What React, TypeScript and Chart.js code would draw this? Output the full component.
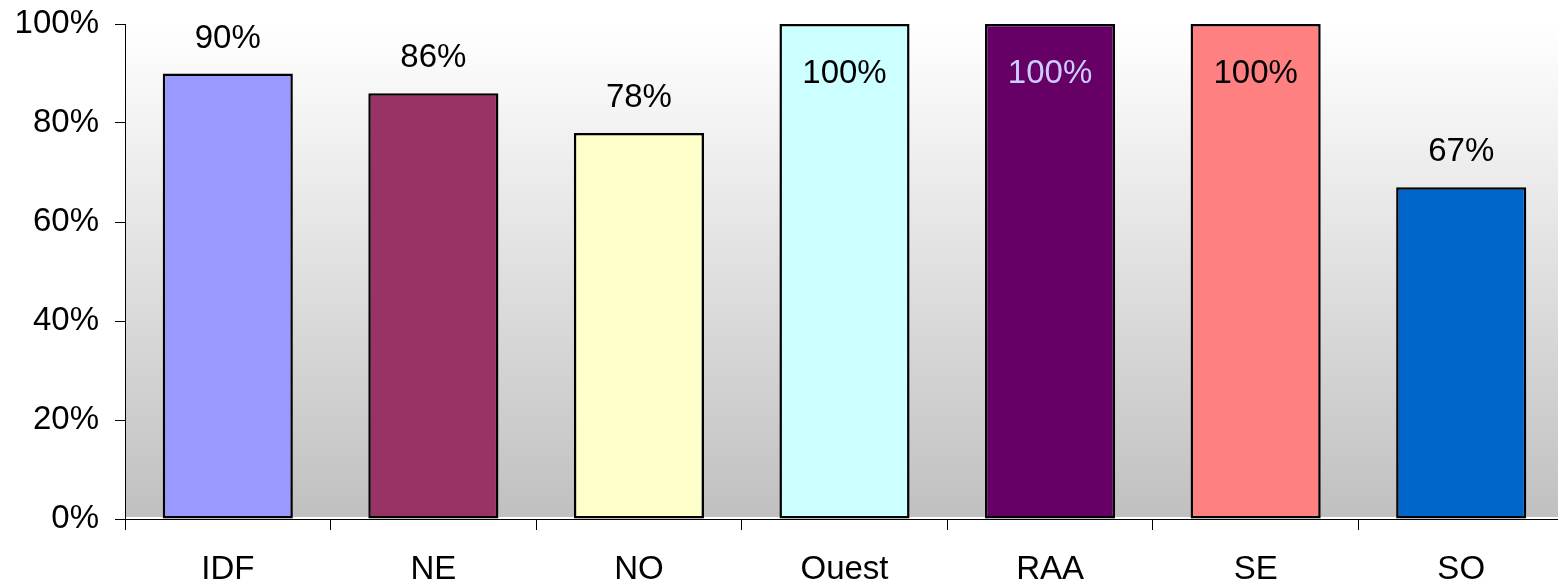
import React, { useEffect, useRef } from "react";
import { Chart, registerables } from "chart.js";

Chart.register(...registerables);

const categories = ["IDF", "NE", "NO", "Ouest", "RAA", "SE", "SO"];
const values = [90, 86, 78, 100, 100, 100, 67];
const barColors = ["#9999ff", "#993366", "#ffffcc", "#ccffff", "#660066", "#ff8080", "#0066cc"];
const labelColors = ["#000000", "#000000", "#000000", "#000000", "#ccccff", "#000000", "#000000"];
const yTicks = [0, 20, 40, 60, 80, 100];

const FONT = "'Liberation Sans', Arial, sans-serif";
const FONT_SIZE = 33;

const bgPlugin = {
  id: "bgGradient",
  beforeDraw(chart: any) {
    const { ctx, chartArea } = chart;
    if (!chartArea) return;
    const g = ctx.createLinearGradient(0, chartArea.top, 0, chartArea.bottom);
    g.addColorStop(0, "#ffffff");
    g.addColorStop(1, "#c0c0c0");
    ctx.save();
    ctx.fillStyle = g;
    ctx.fillRect(chartArea.left, chartArea.top, chartArea.right - chartArea.left, chartArea.bottom - chartArea.top - 2);
    ctx.restore();
  },
};

const labelPlugin = {
  id: "valueLabels",
  afterDatasetsDraw(chart: any) {
    const { ctx } = chart;
    const meta = chart.getDatasetMeta(0);
    ctx.save();
    ctx.font = `${FONT_SIZE}px ${FONT}`;
    ctx.textAlign = "center";
    ctx.textBaseline = "alphabetic";
    meta.data.forEach((bar: any, i: number) => {
      const v = values[i];
      const text = `${v}%`;
      ctx.fillStyle = labelColors[i];
      const y = v >= 100 ? bar.y + 59 : bar.y - 26;
      ctx.fillText(text, bar.x, y);
    });
    ctx.restore();
  },
};

export default function App() {
  const ref = useRef<HTMLCanvasElement>(null);
  useEffect(() => {
    if (!ref.current) return;
    const chart = new Chart(ref.current, {
      type: "bar",
      data: {
        labels: categories,
        datasets: [
          {
            data: values,
            backgroundColor: barColors,
            borderColor: "#000000",
            borderWidth: 2.5,
            borderSkipped: false,
            barPercentage: 0.633,
            categoryPercentage: 1,
          },
        ],
      },
      options: {
        animation: false,
        responsive: false,
        maintainAspectRatio: false,
        layout: { padding: { top: 24, right: 2, left: 0, bottom: 0 } },
        plugins: { legend: { display: false }, tooltip: { enabled: false } },
        scales: {
          x: {
            grid: { display: true, drawOnChartArea: false, drawTicks: true, tickLength: 11, color: "#000000", offset: true },
            border: { display: true, color: "#000000", width: 1 },
            ticks: { color: "#000000", font: { family: FONT, size: FONT_SIZE }, padding: 20, maxRotation: 0, autoSkip: false },
            afterFit: (s: any) => { s.height = 63; s.paddingLeft = 0; s.paddingRight = 0; },
          },
          y: {
            min: 0,
            max: 100,
            afterBuildTicks: (s: any) => { s.ticks = yTicks.map((v) => ({ value: v })); },
            grid: { display: true, drawOnChartArea: false, drawTicks: true, tickLength: 10, color: "#000000" },
            border: { display: true, color: "#000000", width: 1 },
            ticks: { color: "#000000", font: { family: FONT, size: FONT_SIZE }, padding: 16, callback: (v: any) => `${v}%` },
            afterFit: (s: any) => { s.width = 125; s.paddingTop = 0; s.paddingBottom = 0; },
          },
        },
      },
      plugins: [bgPlugin, labelPlugin],
    });
    return () => chart.destroy();
  }, []);
  return (
    <div style={{ position: "fixed", left: 0, top: 0, width: 1566, height: 582, background: "#ffffff" }}>
      <canvas ref={ref} width={1566} height={582} style={{ width: 1566, height: 582 }} />
    </div>
  );
}
